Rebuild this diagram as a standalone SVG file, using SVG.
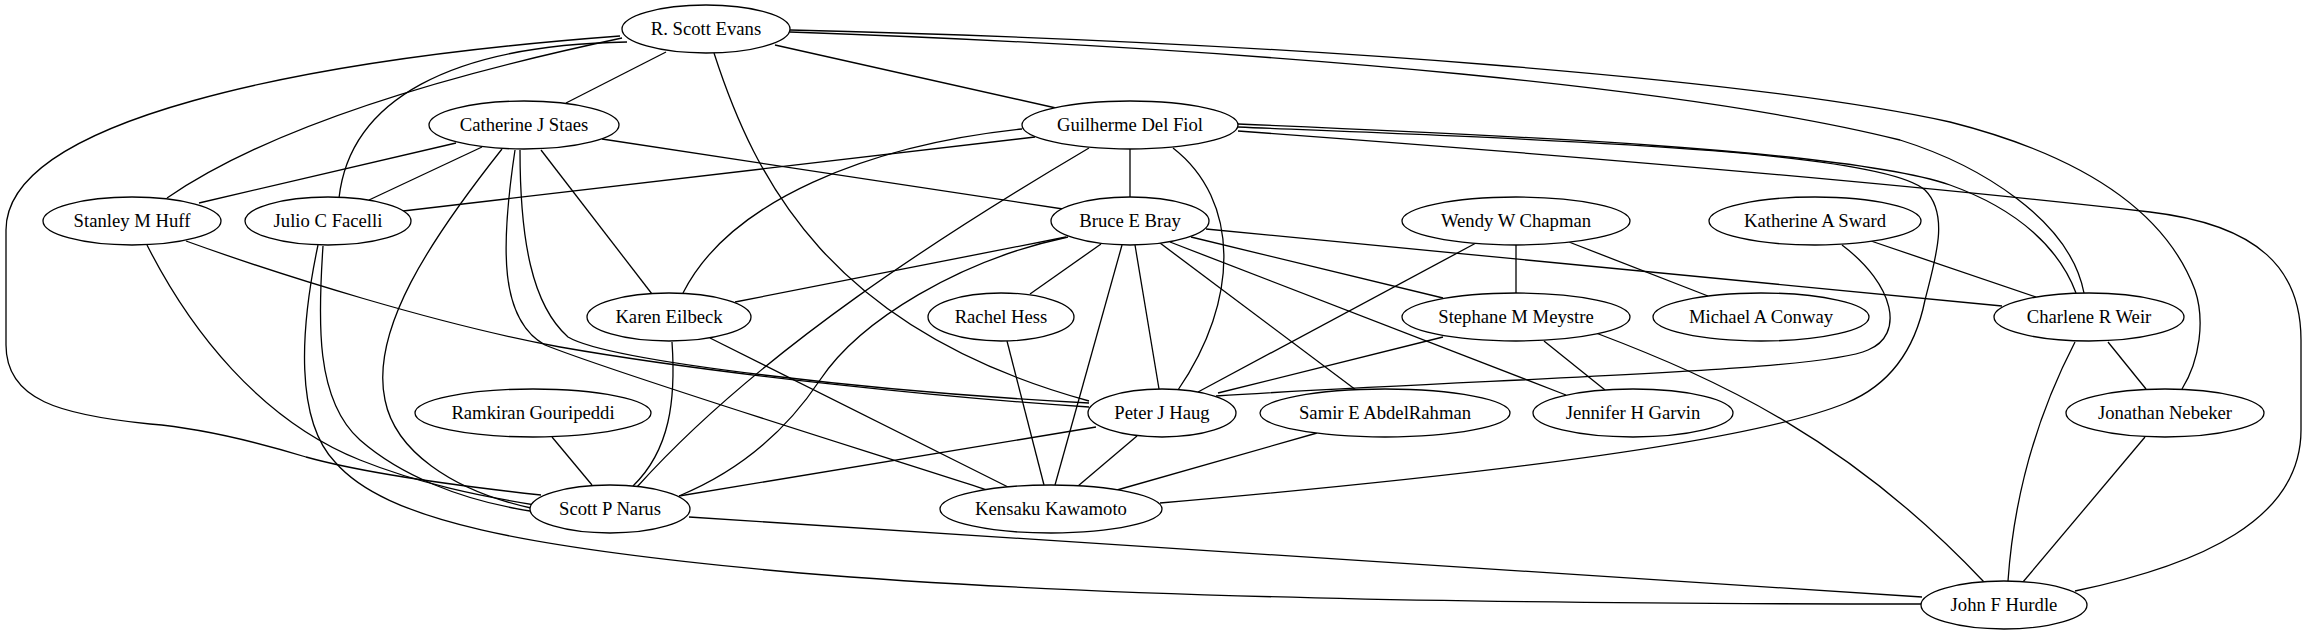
<svg xmlns="http://www.w3.org/2000/svg" width="2307" height="635" viewBox="0 0 2307 635">
<style>
.n ellipse{fill:#fff;stroke:#000;stroke-width:1.3}
.n text{font-family:"Liberation Serif","Times New Roman",serif;font-size:18.67px;text-anchor:middle;fill:#000}
#edges path{fill:none;stroke:#000;stroke-width:1.3}
</style>
<rect width="2307" height="635" fill="#fff"/>
<g id="edges">
<path d="M666,52 L566,103"/>
<path d="M775,45 L1056,108"/>
<path d="M622,38 C480,68 280,120 167,198"/>
<path d="M627,42 C450,45 350,100 339,198"/>
<path d="M620,36 C300,60 6,120 6,230 L6,345 C6,400 60,415 150,424 C200,428 250,440 306,457 C360,472 450,485 541,495"/>
<path d="M714,53 C755,180 830,330 1089,401"/>
<path d="M790,32 C1300,50 1700,90 1900,140 C1980,165 2070,220 2084,293"/>
<path d="M790,30 C1300,42 1760,80 1950,122 C2080,155 2165,210 2195,290 C2205,320 2200,360 2182,389"/>
<path d="M456,143 L199,203"/>
<path d="M482,147 L369,200"/>
<path d="M602,139 L1063,209"/>
<path d="M541,150 L652,294"/>
<path d="M502,149 C430,240 370,330 385,400 C395,450 450,490 531,508"/>
<path d="M515,150 C500,250 500,320 545,345 C620,375 870,452 987,490"/>
<path d="M520,150 C520,240 532,305 568,337 C610,362 880,392 1089,403"/>
<path d="M1035,137 L403,211"/>
<path d="M323,246 C318,320 315,400 360,440 C400,475 460,500 530,511"/>
<path d="M318,245 C300,330 295,420 335,462 C385,520 520,548 800,573 C1100,598 1500,604 1922,604"/>
<path d="M147,245 C190,330 260,420 360,460 C420,484 480,496 535,505"/>
<path d="M186,241 C280,275 440,325 560,347 C720,375 950,398 1089,407"/>
<path d="M1130,149 L1130,197"/>
<path d="M1022,129 C870,145 730,200 683,293"/>
<path d="M1089,148 C950,230 760,350 637,487"/>
<path d="M1173,148 C1240,200 1240,300 1178,390"/>
<path d="M1238,127 C1550,140 1880,150 1925,190 C1950,215 1935,260 1925,300 C1915,350 1890,385 1846,403 C1780,430 1600,465 1160,503"/>
<path d="M1238,124 C1500,135 1850,150 1950,185 C2020,210 2060,250 2076,293"/>
<path d="M1238,131 C1700,165 2000,195 2150,212 C2260,225 2301,270 2301,340 L2301,430 C2301,520 2200,565 2075,591"/>
<path d="M1066,237 L735,302"/>
<path d="M1068,237 C960,260 860,320 820,380 C780,440 730,475 679,496"/>
<path d="M1101,244 L1030,294"/>
<path d="M1122,245 L1055,485"/>
<path d="M1135,245 L1159,389"/>
<path d="M1160,243 L1356,390"/>
<path d="M1170,242 L1566,395"/>
<path d="M1191,237 L1443,298"/>
<path d="M1206,229 L2002,306"/>
<path d="M1516,245 L1516,293"/>
<path d="M1476,243 L1198,392"/>
<path d="M1569,242 L1708,296"/>
<path d="M1871,241 L2036,297"/>
<path d="M1842,245 C1895,285 1905,335 1868,350 C1820,372 1500,378 1216,396"/>
<path d="M1443,337 L1218,393"/>
<path d="M1544,341 L1605,390"/>
<path d="M1596,333 C1720,380 1850,440 1984,582"/>
<path d="M2108,342 L2146,389"/>
<path d="M2075,342 C2045,400 2015,480 2008,581"/>
<path d="M2145,437 L2023,582"/>
<path d="M552,437 L592,485"/>
<path d="M672,342 C676,400 670,450 633,486"/>
<path d="M710,338 L1008,487"/>
<path d="M1007,341 L1044,485"/>
<path d="M1096,427 L679,496"/>
<path d="M1137,436 L1078,486"/>
<path d="M1317,433 L1117,490"/>
<path d="M689,517 L1922,597"/>
</g>
<g id="n-rse" class="n"><ellipse cx="706" cy="29" rx="84" ry="24"/><text x="706" y="34.6">R. Scott Evans</text></g>
<g id="n-cjs" class="n"><ellipse cx="524" cy="125" rx="95" ry="24"/><text x="524" y="130.6">Catherine J Staes</text></g>
<g id="n-gdf" class="n"><ellipse cx="1130" cy="125" rx="108" ry="24"/><text x="1130" y="130.6">Guilherme Del Fiol</text></g>
<g id="n-smh" class="n"><ellipse cx="132" cy="221" rx="89" ry="24"/><text x="132" y="226.6">Stanley M Huff</text></g>
<g id="n-jcf" class="n"><ellipse cx="328" cy="221" rx="83" ry="24"/><text x="328" y="226.6">Julio C Facelli</text></g>
<g id="n-beb" class="n"><ellipse cx="1130" cy="221" rx="79" ry="24"/><text x="1130" y="226.6">Bruce E Bray</text></g>
<g id="n-wwc" class="n"><ellipse cx="1516" cy="221" rx="114" ry="24"/><text x="1516" y="226.6">Wendy W Chapman</text></g>
<g id="n-kas" class="n"><ellipse cx="1815" cy="221" rx="106" ry="24"/><text x="1815" y="226.6">Katherine A Sward</text></g>
<g id="n-ke" class="n"><ellipse cx="669" cy="317" rx="82" ry="24"/><text x="669" y="322.6">Karen Eilbeck</text></g>
<g id="n-rh" class="n"><ellipse cx="1001" cy="317" rx="73" ry="24"/><text x="1001" y="322.6">Rachel Hess</text></g>
<g id="n-smm" class="n"><ellipse cx="1516" cy="317" rx="114" ry="24"/><text x="1516" y="322.6">Stephane M Meystre</text></g>
<g id="n-mac" class="n"><ellipse cx="1761" cy="317" rx="108" ry="24"/><text x="1761" y="322.6">Michael A Conway</text></g>
<g id="n-crw" class="n"><ellipse cx="2089" cy="317" rx="95" ry="24"/><text x="2089" y="322.6">Charlene R Weir</text></g>
<g id="n-rg" class="n"><ellipse cx="533" cy="413" rx="118" ry="24"/><text x="533" y="418.6">Ramkiran Gouripeddi</text></g>
<g id="n-pjh" class="n"><ellipse cx="1162" cy="413" rx="74" ry="24"/><text x="1162" y="418.6">Peter J Haug</text></g>
<g id="n-sea" class="n"><ellipse cx="1385" cy="413" rx="125" ry="24"/><text x="1385" y="418.6">Samir E AbdelRahman</text></g>
<g id="n-jhg" class="n"><ellipse cx="1633" cy="413" rx="100" ry="24"/><text x="1633" y="418.6">Jennifer H Garvin</text></g>
<g id="n-jn" class="n"><ellipse cx="2165" cy="413" rx="99" ry="24"/><text x="2165" y="418.6">Jonathan Nebeker</text></g>
<g id="n-spn" class="n"><ellipse cx="610" cy="509" rx="80" ry="24"/><text x="610" y="514.6">Scott P Narus</text></g>
<g id="n-kk" class="n"><ellipse cx="1051" cy="509" rx="111" ry="24"/><text x="1051" y="514.6">Kensaku Kawamoto</text></g>
<g id="n-jfh" class="n"><ellipse cx="2004" cy="605" rx="83" ry="24"/><text x="2004" y="610.6">John F Hurdle</text></g>
</svg>
